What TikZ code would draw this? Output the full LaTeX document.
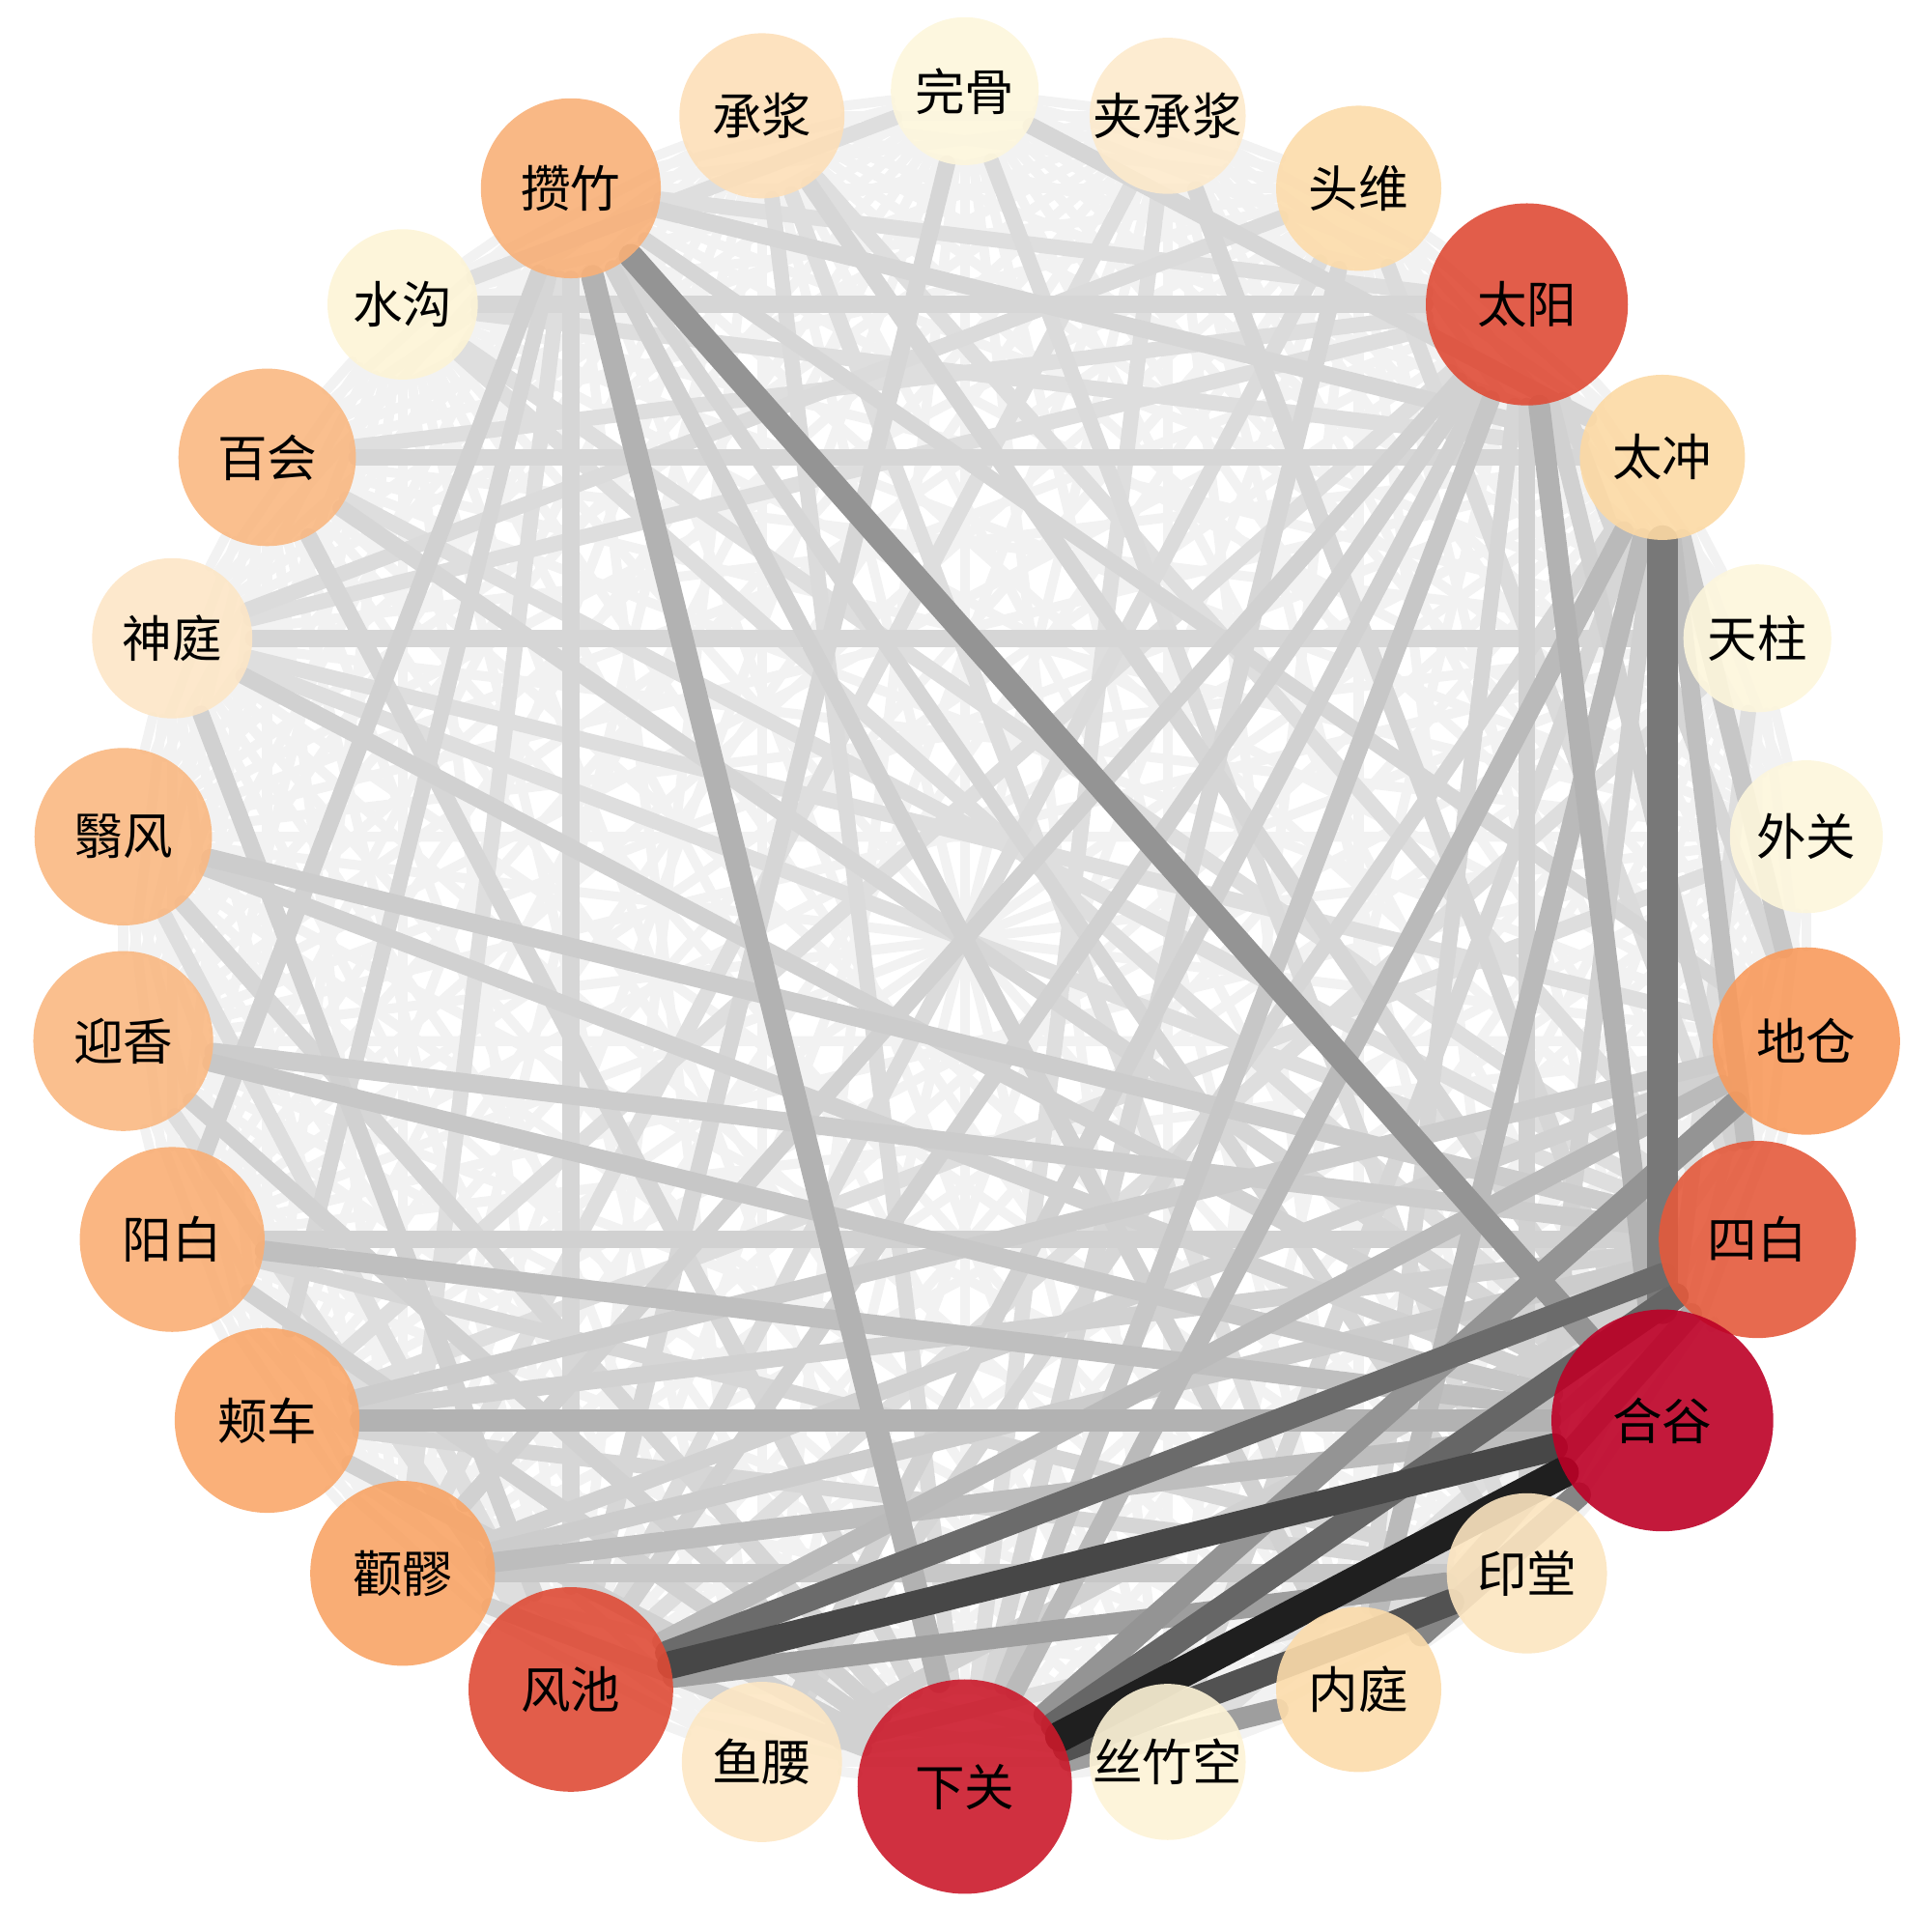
\documentclass[tikz,border=0pt]{standalone}
\usepackage{fontspec}
\newfontfamily\cjk{Noto Sans CJK SC}
\pgfdeclarelayer{bg}
\pgfsetlayers{bg,main}
\definecolor{c0}{HTML}{FDF6DC}
\definecolor{c1}{HTML}{FDEACC}
\definecolor{c2}{HTML}{FCDBAA}
\definecolor{c3}{HTML}{DF4B36}
\definecolor{c4}{HTML}{FCD9A4}
\definecolor{c5}{HTML}{FDF6DC}
\definecolor{c6}{HTML}{FDF6DC}
\definecolor{c7}{HTML}{F89A5C}
\definecolor{c8}{HTML}{E45A3C}
\definecolor{c9}{HTML}{BD0026}
\definecolor{c10}{HTML}{FCE5C0}
\definecolor{c11}{HTML}{FCDCAB}
\definecolor{c12}{HTML}{FDF3D6}
\definecolor{c13}{HTML}{CB1A2B}
\definecolor{c14}{HTML}{FDE7C4}
\definecolor{c15}{HTML}{DF4B36}
\definecolor{c16}{HTML}{F8A466}
\definecolor{c17}{HTML}{F9A76A}
\definecolor{c18}{HTML}{F9AE74}
\definecolor{c19}{HTML}{F9B882}
\definecolor{c20}{HTML}{F9B882}
\definecolor{c21}{HTML}{FDE6C6}
\definecolor{c22}{HTML}{F9B882}
\definecolor{c23}{HTML}{FDF4D6}
\definecolor{c24}{HTML}{F8B078}
\definecolor{c25}{HTML}{FDDFB8}
\begin{document}
\begin{tikzpicture}[
  pt/.style={circle,inner sep=0pt,fill opacity=0.9,text opacity=1,
    font=\cjk\fontsize{11.5}{12}\selectfont},
  faintedge/.style={line cap=round,draw=black!5,line width=0.08cm},
  wedge/.style={line cap=round}]
\useasboundingbox (0,0) rectangle (15.68,15.68);
\begin{scope}[shift={(7.83,8.06)}]
\foreach \i/\lab/\r in {0/完骨/60,1/夹承浆/62,2/头维/67,3/太阳/82,4/太冲/67,5/天柱/60,6/外关/62,7/地仓/76,8/四白/80,9/合谷/90,10/印堂/65,11/内庭/67,12/丝竹空/61,13/下关/87,14/鱼腰/65,15/风池/83,16/颧髎/75,17/颊车/75,18/阳白/75,19/迎香/73,20/翳风/72,21/神庭/65,22/百会/72,23/水沟/61,24/攒竹/73,25/承浆/67}
{
  \node[pt,fill=c\i,minimum size={\r*0.02cm}] (a\i) at ({90-\i*360/26}:6.88) {\lab};
}
\end{scope}
\begin{pgfonlayer}{bg}
\foreach \i in {0,...,25}{
  \foreach \j in {\i,...,25}{
    \ifnum\i<\j \draw[faintedge] (a\i) -- (a\j);\fi
  }
}
% light edges first, darker ones last (gray percentage / width in 0.0125cm)
\foreach \u/\v/\p/\w in {
 24/16/13/10, 0/23/13/10, 1/16/13/10, 3/17/13/10, 3/21/13/10,
 3/24/13/10, 25/8/13/10, 25/11/13/10, 23/9/13/10, 23/8/13/10,
 22/8/13/10, 22/3/13/10, 20/15/13/10, 19/15/13/10, 14/10/13/10,
 12/8/13/10, 9/5/13/10, 7/21/13/10, 8/21/13/10, 5/15/13/10,
 6/17/13/10, 1/13/13/10, 23/4/13/10, 21/2/14/10, 2/15/14/10,
 2/8/14/10, 0/10/14/10, 25/13/14/10,
 21/5/16/11, 24/15/16/11, 24/4/16/11, 24/7/16/10, 24/17/16/10,
 24/10/16/10, 0/4/16/11, 0/15/16/11, 1/9/16/11, 2/13/16/11,
 3/23/16/11, 25/9/16/11, 22/4/16/11, 22/9/16/11, 22/13/16/11,
 20/13/16/11, 18/10/16/10, 17/10/16/10, 14/4/16/10, 12/4/16/10,
 11/3/16/10, 7/3/16/10,
 18/8/18/11, 17/8/18/11, 20/9/18/11, 21/9/18/11, 21/15/18/11,
 24/18/18/11, 24/11/18/11, 3/14/18/11, 3/16/18/11, 3/15/18/11,
 3/8/18/11, 19/13/18/11, 18/13/18/11, 17/13/18/11, 16/13/18/11,
 16/7/18/11, 14/8/18/11, 10/3/18/11, 10/4/18/11,
 19/8/20/12, 17/7/20/12, 16/8/20/12, 20/8/20/12,
 16/10/22/12, 19/9/22/12, 4/7/22/12, 3/13/22/12,
 18/9/25/13, 4/8/25/12, 16/9/26/13, 15/7/27/13, 4/11/27/13,
 4/13/27/13, 3/9/30/14, 24/13/30/15, 17/9/30/14,
 11/8/33/14, 15/10/38/14, 13/11/38/14, 13/7/42/16, 24/9/42/16,
 11/9/48/16, 4/9/53/20, 13/8/60/17, 15/8/58/16,
 13/10/68/17, 15/9/72/18, 13/9/88/20}
{
  \draw[wedge,draw=black!\p,line width={\w*0.0125cm}] (a\u) -- (a\v);
}
\end{pgfonlayer}
\end{tikzpicture}
\end{document}
